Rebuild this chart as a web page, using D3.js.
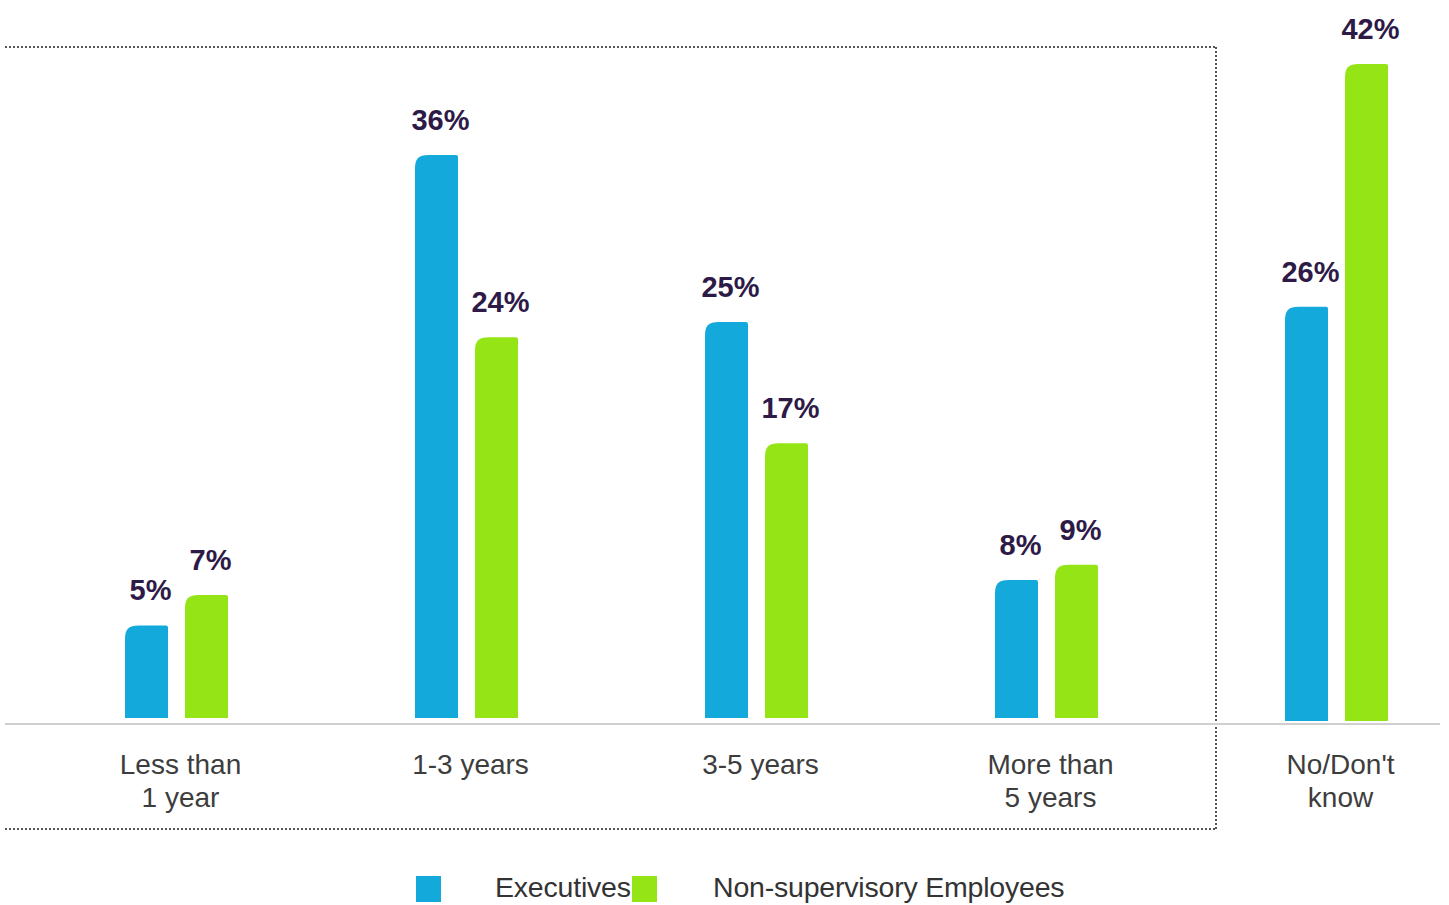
<!DOCTYPE html>
<html><head><meta charset="utf-8">
<script src="https://cdn.jsdelivr.net/npm/d3@7"></script>
<style>
html,body{margin:0;padding:0;background:#fff;}
svg{display:block;font-family:"Liberation Sans",Arial,sans-serif;}
</style></head>
<body>
<svg id="chart" width="1449" height="905"></svg>
<script>
const categories = [["Less than","1 year"],["1-3 years"],["3-5 years"],["More than","5 years"],["No/Don't","know"]];
const categoryKeys = ["lt1","1-3","3-5","gt5","dk"];
const seriesNames = ["Executives","Non-supervisory Employees"];
const executives = [5,36,25,8,26];
const nonSupervisory = [7,24,17,9,42];
const colors = ["#13aadb","#95e516"];

const svg = d3.select("#chart");
const baseY = 718;
const x = d3.scaleBand().domain(categoryKeys).range([31.5,1481.5]).paddingInner(0).paddingOuter(0);
const xs = d3.scaleBand().domain(seriesNames).range([-51.5,51.5]).paddingInner(0.2833).paddingOuter(0);
const y = d3.scaleLinear().domain([-1.1,42]).range([baseY,64]);

// dotted frame
const dot = {stroke:"#555","stroke-width":2,"stroke-dasharray":"2,2"};
function line(x1,y1,x2,y2,attrs){
  const l = svg.append("line").attr("x1",x1).attr("y1",y1).attr("x2",x2).attr("y2",y2);
  Object.entries(attrs).forEach(([k,v])=>l.attr(k,v));
}
line(5,47,1216,47,dot);
line(1216,47,1216,829,dot);
line(5,829,1216,829,dot);
// baseline
line(5,724,1440,724,{stroke:"#cfcfcf","stroke-width":2});

const data = [];
categoryKeys.forEach((c,i)=>{
  data.push({cat:c,series:seriesNames[0],value:executives[i],color:colors[0]});
  data.push({cat:c,series:seriesNames[1],value:nonSupervisory[i],color:colors[1]});
});

function barPath(x0,w,top,bottom){
  const r = 14;
  return `M${x0},${bottom} L${x0},${top+r} C${x0},${top+4} ${x0+3},${top} ${x0+r},${top} L${x0+w-2},${top} Q${x0+w},${top} ${x0+w},${top+2} L${x0+w},${bottom} Z`;
}
const cx = d => x(d.cat)+x.bandwidth()/2;
svg.append("g").selectAll("path").data(data).join("path")
  .attr("d",d=>barPath(cx(d)+xs(d.series), xs.bandwidth(), y(d.value), d.cat==="dk"?721:baseY))
  .attr("fill",d=>d.color);

svg.append("g").selectAll("text").data(data).join("text")
  .attr("x",d=>cx(d)+xs(d.series)+xs.bandwidth()/2+4)
  .attr("y",d=>y(d.value)-25)
  .attr("text-anchor","middle")
  .attr("font-size",29).attr("font-weight","bold").attr("fill","#2e1a47")
  .text(d=>d.value+"%");

// category labels
const cl = svg.append("g");
categoryKeys.forEach((c,i)=>{
  const t = cl.append("text").attr("x",x(c)+x.bandwidth()/2+4).attr("y",774)
    .attr("text-anchor","middle").attr("font-size",28).attr("fill","#3d3d3d");
  categories[i].forEach((ln,j)=>t.append("tspan").attr("x",x(c)+x.bandwidth()/2+4).attr("dy",j?33:0).text(ln));
});

// legend
const lg = svg.append("g");
const legendItems = [{name:seriesNames[0],sx:416,tx:495,color:colors[0]},{name:seriesNames[1],sx:632,tx:713,color:colors[1]}];
legendItems.forEach(it=>{
  lg.append("rect").attr("x",it.sx).attr("y",876).attr("width",25).attr("height",26).attr("fill",it.color);
  lg.append("text").attr("x",it.tx).attr("y",897).attr("font-size",28.5).attr("letter-spacing",-0.2).attr("fill","#333").text(it.name);
});
</script>
</body></html>
